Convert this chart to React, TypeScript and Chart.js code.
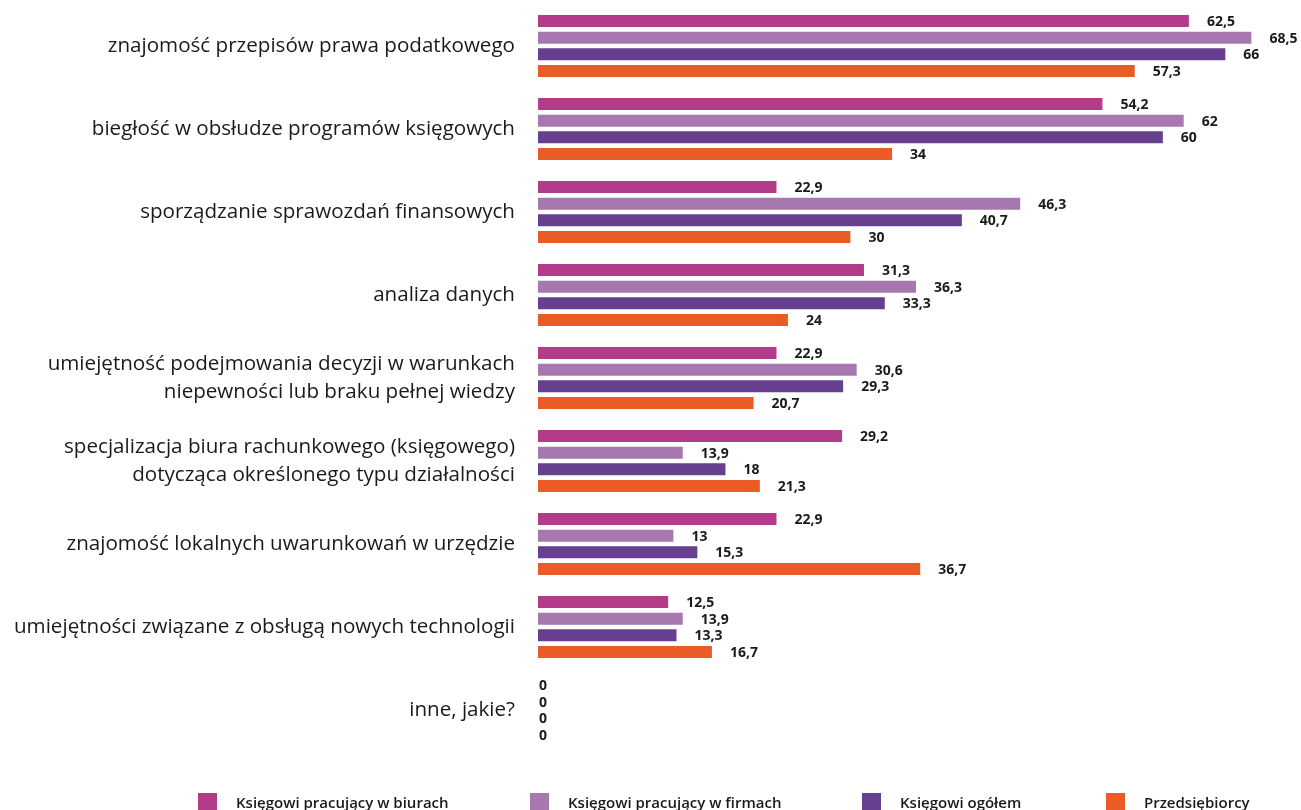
import React, { useEffect, useRef } from "react";
import { Chart, registerables } from "chart.js";

Chart.register(...registerables);

const categories: (string | string[])[] = [
  "znajomość przepisów prawa podatkowego",
  "biegłość w obsłudze programów księgowych",
  "sporządzanie sprawozdań finansowych",
  "analiza danych",
  ["umiejętność podejmowania decyzji w warunkach", "niepewności lub braku pełnej wiedzy"],
  ["specjalizacja biura rachunkowego (księgowego)", "dotycząca określonego typu działalności"],
  "znajomość lokalnych uwarunkowań w urzędzie",
  "umiejętności związane z obsługą nowych technologii",
  "inne, jakie?",
];

const seriesNames = [
  "Księgowi pracujący w biurach",
  "Księgowi pracujący w firmach",
  "Księgowi ogółem",
  "Przedsiębiorcy",
];

const biura = [62.5, 54.2, 22.9, 31.3, 22.9, 29.2, 22.9, 12.5, 0];
const firmy = [68.5, 62, 46.3, 36.3, 30.6, 13.9, 13, 13.9, 0];
const ogolem = [66, 60, 40.7, 33.3, 29.3, 18, 15.3, 13.3, 0];
const przedsiebiorcy = [57.3, 34, 30, 24, 20.7, 21.3, 36.7, 16.7, 0];

const colors = ["#B33C8A", "#A777B0", "#673F8F", "#EB5B26"];

const FONT = "'Open Sans', 'Noto Sans', 'DejaVu Sans', sans-serif";

const valueLabels = {
  id: "valueLabels",
  afterDatasetsDraw(chart: any) {
    const ctx = chart.ctx;
    ctx.save();
    ctx.font = `bold 14px ${FONT}`;
    ctx.fillStyle = "#1a1a1a";
    ctx.textAlign = "left";
    ctx.textBaseline = "middle";
    chart.data.datasets.forEach((ds: any, di: number) => {
      const meta = chart.getDatasetMeta(di);
      meta.data.forEach((bar: any, i: number) => {
        const v = ds.data[i];
        const txt = String(v).replace(".", ",");
        const off = v > 0 ? 18 : 1;
        ctx.fillText(txt, bar.x + off, bar.y + 1);
      });
    });
    ctx.restore();
  },
};

export default function App() {
  const ref = useRef<HTMLCanvasElement | null>(null);

  useEffect(() => {
    if (!ref.current) return;
    const data = [biura, firmy, ogolem, przedsiebiorcy];
    const chart = new Chart(ref.current, {
      type: "bar",
      data: {
        labels: categories,
        datasets: data.map((d, i) => ({
          label: seriesNames[i],
          data: d,
          backgroundColor: colors[i],
          borderWidth: 0,
          categoryPercentage: 0.8,
          barPercentage: 0.72,
        })),
      },
      options: {
        indexAxis: "y",
        animation: false,
        responsive: false,
        maintainAspectRatio: false,
        layout: { padding: { top: 4.5, bottom: 18.5, right: 34, left: 0 } },
        plugins: {
          legend: { display: false },
          tooltip: { enabled: false },
        },
        scales: {
          x: {
            display: false,
            min: 0,
            max: 70,
            grid: { display: false },
          },
          y: {
            grid: { display: false, drawTicks: false },
            border: { display: false },
            afterFit(scale: any) {
              scale.width = 538;
              scale.paddingTop = 0;
              scale.paddingBottom = 0;
            },
            ticks: {
              padding: 23,
              color: "#1a1a1a",
              font: { family: FONT, size: 20.6, lineHeight: 1.36 },
              autoSkip: false,
            },
          },
        },
      },
      plugins: [valueLabels],
    });
    return () => chart.destroy();
  }, []);

  const legendX = [198, 530, 862, 1106];

  return (
    <div style={{ position: "fixed", left: 0, top: 0, width: 1301, height: 810, background: "#fff" }}>
      <canvas ref={ref} width={1301} height={770} style={{ display: "block" }} />
      {seriesNames.map((n, i) => (
        <div
          key={n}
          style={{
            position: "absolute",
            left: legendX[i],
            top: 792,
            display: "flex",
            alignItems: "center",
            fontFamily: FONT,
            fontSize: 15,
            fontWeight: 600,
            color: "#1a1a1a",
            whiteSpace: "nowrap",
          }}
        >
          <span style={{ display: "inline-block", width: 19, height: 18, background: colors[i], marginRight: 19 }} />
          <span>{n}</span>
        </div>
      ))}
    </div>
  );
}
